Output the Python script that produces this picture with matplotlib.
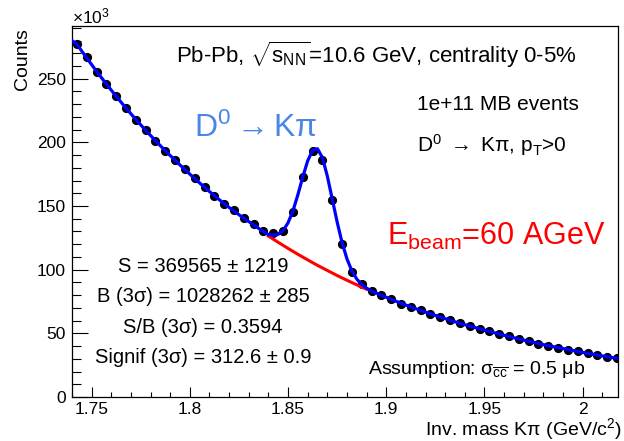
import matplotlib
matplotlib.use('Agg')
import matplotlib.pyplot as plt
from matplotlib.ticker import MultipleLocator, FormatStrFormatter

plt.rcParams['font.family'] = ['Liberation Sans', 'DejaVu Sans']
plt.rcParams['mathtext.fontset'] = 'custom'
plt.rcParams['mathtext.rm'] = 'Liberation Sans'
plt.rcParams['mathtext.it'] = 'Liberation Sans:italic'
plt.rcParams['mathtext.bf'] = 'Liberation Sans:bold'

# --- data: Kpi invariant mass spectrum, counts in units of 1e3 ---
mass = [1.7425, 1.7475, 1.7525, 1.7575, 1.7625, 1.7675, 1.7725, 1.7775,
        1.7825, 1.7875, 1.7925, 1.7975, 1.8025, 1.8075, 1.8125, 1.8175,
        1.8225, 1.8275, 1.8325, 1.8375, 1.8425, 1.8475, 1.8525, 1.8575,
        1.8625, 1.8675, 1.8725, 1.8775, 1.8825, 1.8875, 1.8925, 1.8975,
        1.9025, 1.9075, 1.9125, 1.9175, 1.9225, 1.9275, 1.9325, 1.9375,
        1.9425, 1.9475, 1.9525, 1.9575, 1.9625, 1.9675, 1.9725, 1.9775,
        1.9825, 1.9875, 1.9925, 1.9975, 2.0025, 2.0075, 2.0125, 2.0175]
counts = [277.5, 267.0, 255.2, 246.0, 236.8, 226.7, 217.8, 209.4, 201.4, 193.1,
          186.3, 179.1, 171.7, 164.8, 158.1, 151.5, 146.5, 140.3, 135.8, 130.5,
          128.8, 130.0, 145.1, 172.8, 193.5, 186.2, 154.6, 120.0, 98.2, 89.0,
          83.0, 79.8, 76.9, 73.1, 70.8, 68.0, 65.4, 62.9, 60.3, 57.8,
          55.6, 53.8, 51.5, 49.6, 47.6, 45.6, 43.8, 42.0, 40.1, 38.7,
          37.3, 35.9, 34.3, 32.9, 31.6, 30.4]

# total fit (signal + background)
fit_mass = [1.74, 1.7425, 1.7475, 1.7525, 1.7575, 1.7625, 1.7675, 1.7725, 1.7775,
            1.7825, 1.7875, 1.7925, 1.7975, 1.8025, 1.8075, 1.8125, 1.8175,
            1.8225, 1.8275, 1.8325,
            1.8375, 1.84, 1.8425, 1.845, 1.8475, 1.85, 1.8525, 1.855, 1.8575,
            1.86, 1.8625, 1.865, 1.8675, 1.87, 1.8725, 1.875, 1.8775, 1.88,
            1.8825, 1.885, 1.8875, 1.89, 1.8925,
            1.8975, 1.9025, 1.9075, 1.9125, 1.9175, 1.9225, 1.9275, 1.9325,
            1.9375, 1.9425, 1.9475, 1.9525, 1.9575, 1.9625, 1.9675, 1.9725,
            1.9775, 1.9825, 1.9875, 1.9925, 1.9975, 2.0025, 2.0075, 2.0125,
            2.0175, 2.018]
fit_counts = [280.0, 277.0, 266.3, 255.8, 245.8, 236.2, 226.9, 218.0, 209.5,
              201.3, 193.4, 185.9, 178.6, 171.5, 164.7, 158.1, 151.8,
              146.0, 140.4, 135.2,
              129.8, 127.6, 127.0, 127.8, 130.8, 136.8, 146.2, 158.8, 172.8,
              185.5, 193.8, 195.0, 188.0, 173.5, 155.5, 137.5, 121.3, 108.5,
              99.0, 92.6, 88.4, 85.5, 83.2,
              79.9, 76.8, 73.6, 70.8, 68.0, 65.4, 62.8, 60.3, 57.9, 55.7,
              53.6, 51.5, 49.5, 47.5, 45.6, 43.8, 42.0, 40.3, 38.8, 37.3,
              35.8, 34.3, 32.9, 31.6, 30.4, 30.3]

# background under the peak (red)
bkg_mass = [1.84, 1.845, 1.85, 1.855, 1.86, 1.865, 1.87, 1.875, 1.88, 1.885, 1.89]
bkg_counts = [126.4, 121.5, 116.7, 112.1, 107.7, 103.4, 99.4, 95.4, 91.7, 88.1, 84.6]

stats_lines = ['S = 369565 ± 1219',
               'B (3σ) = 1028262 ± 285',
               'S/B (3σ) = 0.3594',
               'Signif (3σ) = 312.6 ± 0.9']

W, H = 624, 441
fig = plt.figure(figsize=(W / 100, H / 100), dpi=100)
ax = fig.add_axes([72 / W, 1 - 397 / H, (618 - 72) / W, (397 - 26) / H])

ax.plot(mass, counts, 'o', color='black', markersize=5.6, zorder=2)
ax.plot(bkg_mass, bkg_counts, color='#ff0000', lw=2.2, zorder=3)
ax.plot(fit_mass, fit_counts, color='#0000ff', lw=2.3, zorder=4)

ax.set_xlim(1.74, 2.018)
ax.set_ylim(0, 291.4)

ax.xaxis.set_major_locator(MultipleLocator(0.05))
ax.xaxis.set_minor_locator(MultipleLocator(0.01))
ax.yaxis.set_major_locator(MultipleLocator(50))
ax.yaxis.set_minor_locator(MultipleLocator(10))
ax.xaxis.set_major_formatter(FormatStrFormatter('%g'))
ax.yaxis.set_major_formatter(FormatStrFormatter('%g'))

ax.tick_params(axis='x', which='major', direction='in', length=7.2, width=0.8, pad=3.6, labelsize=12.5, top=False)
ax.tick_params(axis='x', which='minor', direction='in', length=3.6, width=0.8, top=False)
ax.tick_params(axis='y', which='major', direction='in', length=11.5, width=0.8, pad=4.5, labelsize=12.5, right=False)
ax.tick_params(axis='y', which='minor', direction='in', length=6.5, width=0.8, right=False)
for sp in ax.spines.values():
    sp.set_linewidth(0.9)


def px(x, y):
    return x / W, 1 - y / H


fig.text(*px(72, 23), '×10$^3$', fontsize=12.5, va='baseline', ha='left')
fig.text(*px(22, 28), 'Counts', fontsize=14, rotation=90, ha='center', va='top')
fig.text(*px(622, 435), r'Inv. mass Kπ (GeV/c$^2$)', fontsize=14, ha='right', va='baseline')

fig.text(*px(176, 63), r'Pb-Pb, $\sqrt{\mathrm{s_{NN}}}$=10.6 GeV, centrality 0-5%',
         fontsize=16, va='baseline')
fig.text(*px(417, 110), '1e+11 MB events', fontsize=15, va='baseline')
fig.text(*px(417, 152), r'D$^0$ $\rightarrow$ Kπ, p$_\mathrm{T}$>0', fontsize=15, va='baseline')

fig.text(*px(194, 137), r'D$^0$$\rightarrow$Kπ', fontsize=23, color='#4a86e8', va='baseline')
fig.text(*px(387, 245), r'E$_\mathrm{beam}$=60 AGeV', fontsize=22, color='#ff0000', va='baseline')

for k, line in enumerate(stats_lines):
    fig.text(*px(203, 272 + 30.3 * k), line, fontsize=14.5, ha='center', va='baseline')

fig.text(*px(368, 374), r'Assumption: σ$_{\overline{\mathrm{cc}}}$ = 0.5 μb', fontsize=14, va='baseline')

fig.savefig('out.png', dpi=100)
